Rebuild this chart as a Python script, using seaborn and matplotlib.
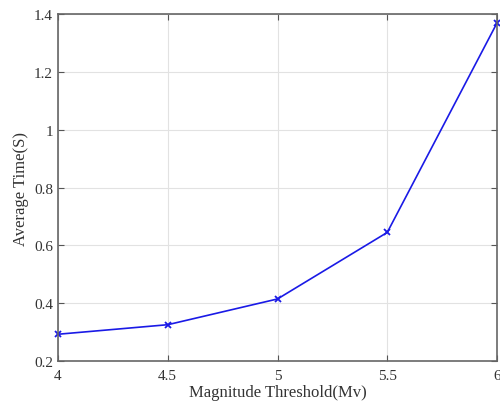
import matplotlib
matplotlib.use('Agg')
import matplotlib.pyplot as plt
import seaborn as sns
import pandas as pd

magnitude = [4, 4.5, 5, 5.5, 6]
avg_time = [0.293, 0.326, 0.415, 0.645, 1.369]
x_ticks = [4, 4.5, 5, 5.5, 6]
y_ticks = [0.2, 0.4, 0.6, 0.8, 1, 1.2, 1.4]

sns.set_style('whitegrid')
plt.rcParams['font.family'] = ['Liberation Serif', 'DejaVu Serif']

df = pd.DataFrame({'Magnitude': magnitude, 'Time': avg_time})

fig = plt.figure(figsize=(5, 4.06), dpi=100)
ax = fig.add_axes([0.116, 0.108, 0.878, 0.855])
sns.lineplot(data=df, x='Magnitude', y='Time', ax=ax, color='#1a1ae6',
             marker='x', markersize=5, markeredgewidth=1.3,
             markeredgecolor='#1a1ae6', linewidth=1.2, clip_on=False)

ax.set_xlim(4, 6)
ax.set_ylim(0.2, 1.4)
ax.set_xticks(x_ticks)
ax.set_xticklabels(['4', '4.5', '5', '5.5', '6'])
ax.set_yticks(y_ticks)
ax.set_yticklabels(['0.2', '0.4', '0.6', '0.8', '1', '1.2', '1.4'])
ax.grid(True, color='#e2e2e2', linewidth=0.8)
ax.tick_params(direction='in', length=4, color='#555555', labelsize=11,
               labelcolor='#333333', top=True, right=True, bottom=True, left=True)
ax.tick_params(axis='x', pad=6)
for s in ax.spines.values():
    s.set_color('#666666')
    s.set_linewidth(1.2)
ax.set_xlabel('Magnitude Threshold(Mv)', fontsize=12, color='#333333', labelpad=1)
ax.set_ylabel('Average Time(S)', fontsize=12, color='#333333', labelpad=4)

plt.savefig('out.png', dpi=100)
